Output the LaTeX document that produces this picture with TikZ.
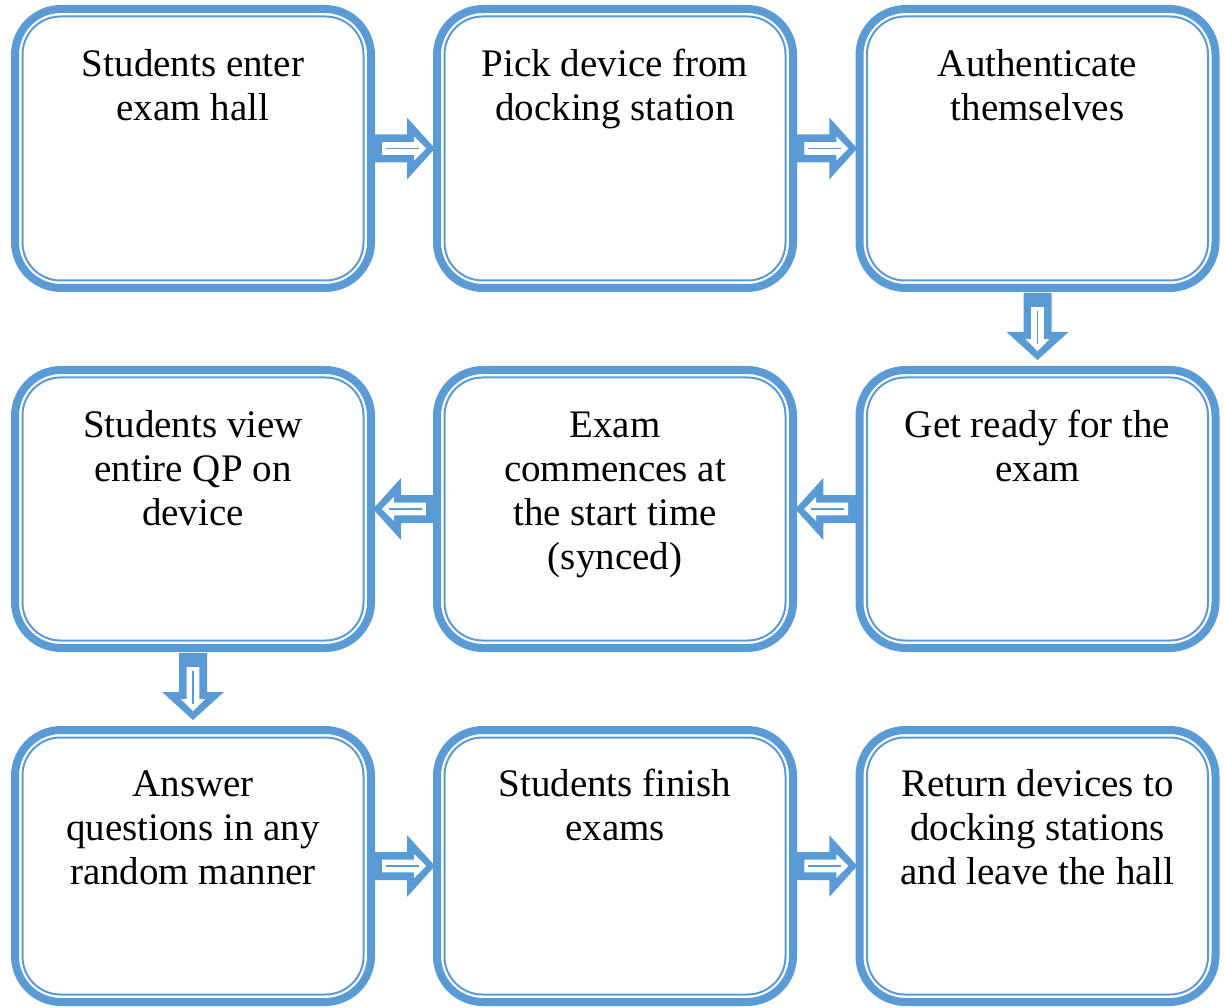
\documentclass[tikz,border=0pt]{standalone}
\usepackage{fontspec}
\setmainfont{Liberation Serif}
\usetikzlibrary{calc}
\definecolor{flowblue}{HTML}{5B9BD5}
\begin{document}
\begin{tikzpicture}[x=1pt,y=1pt,
  stepbox/.style={draw=flowblue, line width=8pt, rounded corners=46pt,
    minimum width=356pt, inner sep=0pt, outer sep=0pt},
  innerline/.style={draw=flowblue, line width=2pt, rounded corners=38pt},
  boxtext/.style={font=\fontsize{39}{44}\selectfont, align=center,
    inner sep=0pt, anchor=north, text=black},
  pics/flowarrow/.style={code={
    \fill[flowblue] (-36,-14) -- (3,-14) -- (3,-31) -- (31,0) -- (3,31)
      -- (3,14) -- (-36,14) -- cycle;
    \draw[white, line width=1.6pt, fill=white] (-21,-5.5) -- (11,-5.5)
      -- (11,-10) -- (21,0) -- (11,10) -- (11,5.5) -- (-21,5.5) -- cycle;
    \draw[flowblue, line width=1.6pt] (-18,0) -- (15,0);
  }}]
\useasboundingbox (0,0) rectangle (1224,-1008);

% row 1
\node[stepbox, minimum height=279pt] (b1) at (193,-148.5) {};
\node[stepbox, minimum height=279pt] (b2) at (615,-148.5) {};
\node[stepbox, minimum height=279pt] (b3) at (1037.5,-148.5) {};
% row 2
\node[stepbox, minimum height=278pt] (b4) at (193,-509) {};
\node[stepbox, minimum height=278pt] (b5) at (615,-509) {};
\node[stepbox, minimum height=278pt] (b6) at (1037.5,-509) {};
% row 3
\node[stepbox, minimum height=272pt] (b7) at (193,-866) {};
\node[stepbox, minimum height=272pt] (b8) at (615,-866) {};
\node[stepbox, minimum height=272pt] (b9) at (1037.5,-866) {};

\foreach \b in {b1,b2,b3,b4,b5,b6,b7,b8,b9}{
  \draw[innerline] ([shift={(7.5,-7.5)}]\b.north west) rectangle ([shift={(-7.5,7.5)}]\b.south east);
}

\node[boxtext] (t1) at ([yshift=-37pt]b1.north) {\strut Students enter\\exam hall};
\node[boxtext] (t2) at ([yshift=-37pt]b2.north) {\strut Pick device from\\docking station};
\node[boxtext] (t3) at ([yshift=-37pt]b3.north) {\strut Authenticate\\themselves};
\node[boxtext] (t4) at ([yshift=-36pt]b4.north) {\strut Students view\\entire QP on\\device};
\node[boxtext] (t5) at ([yshift=-36pt]b5.north) {\strut Exam\\commences at\\the start time\\(synced)};
\node[boxtext] (t6) at ([yshift=-36pt]b6.north) {\strut Get ready for the\\exam};
\node[boxtext] (t7) at ([yshift=-35pt]b7.north) {\strut Answer\\questions in any\\random manner};
\node[boxtext] (t8) at ([yshift=-35pt]b8.north) {\strut Students finish\\exams};
\node[boxtext] (t9) at ([yshift=-35pt]b9.north) {\strut Return devices to\\docking stations\\and leave the hall};

% connectors
\pic at ($(b1.east)!0.5!(b2.west)$) {flowarrow};
\pic at ($(b2.east)!0.5!(b3.west)$) {flowarrow};
\pic[rotate=-90] at ($(b3.south)!0.5!(b6.north)$) {flowarrow};
\pic[rotate=180] at ($(b6.west)!0.5!(b5.east)$) {flowarrow};
\pic[rotate=180] at ($(b5.west)!0.5!(b4.east)$) {flowarrow};
\pic[rotate=-90] at ($(b4.south)!0.5!(b7.north)$) {flowarrow};
\pic at ($(b7.east)!0.5!(b8.west)$) {flowarrow};
\pic at ($(b8.east)!0.5!(b9.west)$) {flowarrow};
\end{tikzpicture}
\end{document}
